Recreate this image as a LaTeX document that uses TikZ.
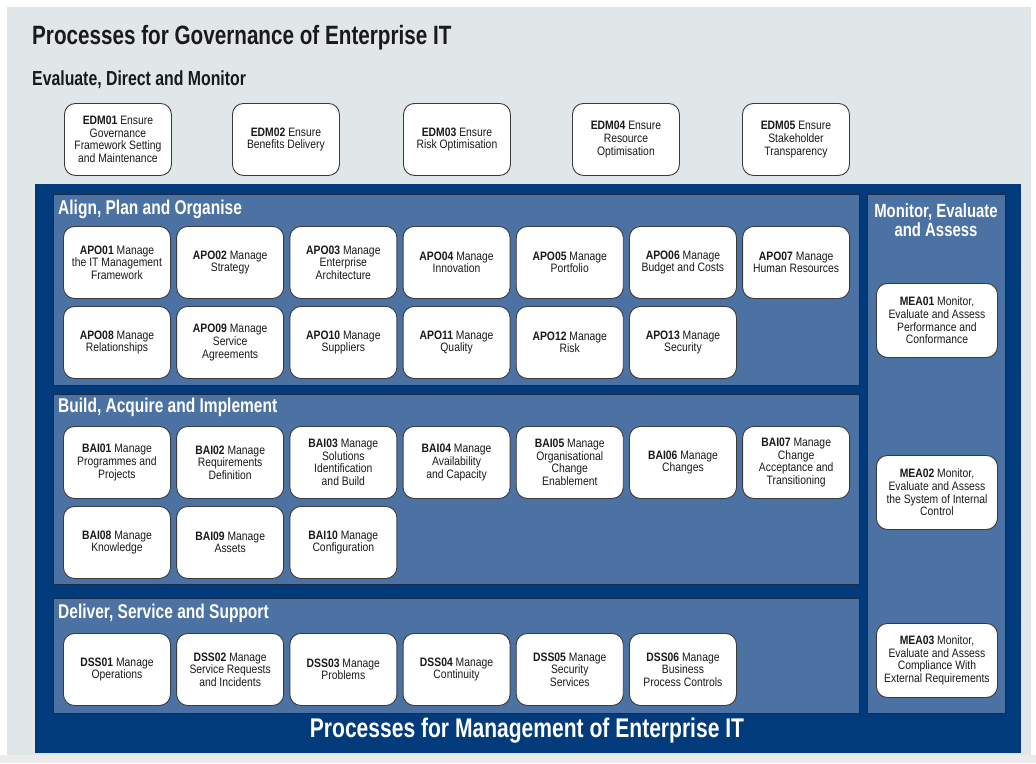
\documentclass[tikz,border=0pt]{standalone}
\usepackage{fontspec}
\setmainfont{Liberation Sans}[FakeStretch=0.85]
\newfontfamily\headfont{Liberation Sans}[FakeStretch=0.78]
\definecolor{bglight}{HTML}{E1E7E8}
\definecolor{bgstrip}{HTML}{EBEBEB}
\definecolor{darkblue}{HTML}{023B7B}
\definecolor{panelblue}{HTML}{4B72A2}
\definecolor{panelline}{HTML}{1C2C48}
\definecolor{boxline}{HTML}{3A3A3A}
\definecolor{ink}{HTML}{1A1A1A}
\tikzset{
  proc/.style={draw=boxline, line width=0.9pt, fill=white, rounded corners=11pt,
    anchor=north west, minimum width=107pt, minimum height=72pt, inner sep=1pt,
    align=center, text=ink, font=\fontsize{12.2}{12.6}\selectfont},
  mea/.style={proc, minimum width=121pt, minimum height=74pt},
  panel/.style={draw=panelline, line width=0.8pt, fill=panelblue, anchor=north west, inner sep=0pt},
  ptitle/.style={anchor=west, text=white, inner sep=0pt, font=\headfont\bfseries\fontsize{19.9}{21}\selectfont},
}
\begin{document}
\begin{tikzpicture}[x=1pt,y=-1pt]
\useasboundingbox (0,0) rectangle (1036,763);
\fill[white] (0,0) rectangle (1036,763);
\fill[bgstrip] (0,755) rectangle (1036,763);
\fill[bglight] (7,7) rectangle (1031,755);

% titles
\node[anchor=west, inner sep=0pt, text=ink, font=\headfont\bfseries\fontsize{26.5}{28}\selectfont] (title) at (32,38) {Processes for Governance of Enterprise IT};
\node[anchor=west, inner sep=0pt, text=ink, font=\headfont\bfseries\fontsize{20.3}{22}\selectfont] (edmtitle) at (32,80) {Evaluate, Direct and Monitor};

% EDM
\node[proc] (edm01) at (64,103) {\textbf{EDM01} Ensure\\Governance\\Framework Setting\\and Maintenance};
\node[proc] (edm02) at (232,103) {\textbf{EDM02} Ensure\\Benefits Delivery};
\node[proc] (edm03) at (403,103) {\textbf{EDM03} Ensure\\Risk Optimisation};
\node[proc] (edm04) at (572,103) {\textbf{EDM04} Ensure\\Resource\\Optimisation};
\node[proc] (edm05) at (742,103) {\textbf{EDM05} Ensure\\Stakeholder\\Transparency};

% management area
\node[fill=darkblue, anchor=north west, minimum width=986pt, minimum height=569pt, inner sep=0pt] (mgmt) at (35,184) {};
\node[panel, minimum width=806pt, minimum height=191pt] (apo) at (53,194) {};
\node[panel, minimum width=806pt, minimum height=190pt] (bai) at (53,394) {};
\node[panel, minimum width=806pt, minimum height=115pt] (dss) at (53,598) {};
\node[panel, minimum width=138pt, minimum height=519pt] (meap) at (867,194) {};

\node[ptitle] (apot) at (58,209) {Align, Plan and Organise};
\node[ptitle] (bait) at (58,407) {Build, Acquire and Implement};
\node[ptitle] (dsst) at (58,613) {Deliver, Service and Support};
\node[text=white, align=center, inner sep=0pt, font=\headfont\bfseries\fontsize{19.1}{19.5}\selectfont] (meat) at (936,220) {Monitor, Evaluate\\and Assess};
\node[text=white, inner sep=0pt, font=\headfont\bfseries\fontsize{27}{29}\selectfont] (mgmtt) at (527,731) {Processes for Management of Enterprise IT};

% APO
\node[proc] (apo01) at (63,226) {\textbf{APO01} Manage\\the IT Management\\Framework};
\node[proc] (apo02) at (176.2,226) {\textbf{APO02} Manage\\Strategy};
\node[proc] (apo03) at (289.4,226) {\textbf{APO03} Manage\\Enterprise\\Architecture};
\node[proc] (apo04) at (402.6,226) {\textbf{APO04} Manage\\Innovation};
\node[proc] (apo05) at (515.8,226) {\textbf{APO05} Manage\\Portfolio};
\node[proc] (apo06) at (629,226) {\textbf{APO06} Manage\\Budget and Costs};
\node[proc] (apo07) at (742.2,226) {\textbf{APO07} Manage\\Human Resources};
\node[proc] (apo08) at (63,306) {\textbf{APO08} Manage\\Relationships};
\node[proc] (apo09) at (176.2,306) {\textbf{APO09} Manage\\Service\\Agreements};
\node[proc] (apo10) at (289.4,306) {\textbf{APO10} Manage\\Suppliers};
\node[proc] (apo11) at (402.6,306) {\textbf{APO11} Manage\\Quality};
\node[proc] (apo12) at (515.8,306) {\textbf{APO12} Manage\\Risk};
\node[proc] (apo13) at (629,306) {\textbf{APO13} Manage\\Security};

% BAI
\node[proc] (bai01) at (63,426) {\textbf{BAI01} Manage\\Programmes and\\Projects};
\node[proc] (bai02) at (176.2,426) {\textbf{BAI02} Manage\\Requirements\\Definition};
\node[proc] (bai03) at (289.4,426) {\textbf{BAI03} Manage\\Solutions\\Identification\\and Build};
\node[proc] (bai04) at (402.6,426) {\textbf{BAI04} Manage\\Availability\\and Capacity};
\node[proc] (bai05) at (515.8,426) {\textbf{BAI05} Manage\\Organisational\\Change\\Enablement};
\node[proc] (bai06) at (629,426) {\textbf{BAI06} Manage\\Changes};
\node[proc] (bai07) at (742.2,426) {\textbf{BAI07} Manage\\Change\\Acceptance and\\Transitioning};
\node[proc] (bai08) at (63,506) {\textbf{BAI08} Manage\\Knowledge};
\node[proc] (bai09) at (176.2,506) {\textbf{BAI09} Manage\\Assets};
\node[proc] (bai10) at (289.4,506) {\textbf{BAI10} Manage\\Configuration};

% DSS
\node[proc] (dss01) at (63,633) {\textbf{DSS01} Manage\\Operations};
\node[proc] (dss02) at (176.2,633) {\textbf{DSS02} Manage\\Service Requests\\and Incidents};
\node[proc] (dss03) at (289.4,633) {\textbf{DSS03} Manage\\Problems};
\node[proc] (dss04) at (402.6,633) {\textbf{DSS04} Manage\\Continuity};
\node[proc] (dss05) at (515.8,633) {\textbf{DSS05} Manage\\Security\\Services};
\node[proc] (dss06) at (629,633) {\textbf{DSS06} Manage\\Business\\Process Controls};

% MEA
\node[mea] (mea01) at (876,283) {\textbf{MEA01} Monitor,\\Evaluate and Assess\\Performance and\\Conformance};
\node[mea] (mea02) at (876,455) {\textbf{MEA02} Monitor,\\Evaluate and Assess\\the System of Internal\\Control};
\node[mea] (mea03) at (876,623) {\textbf{MEA03} Monitor,\\Evaluate and Assess\\Compliance With\\External Requirements};
\end{tikzpicture}
\end{document}
